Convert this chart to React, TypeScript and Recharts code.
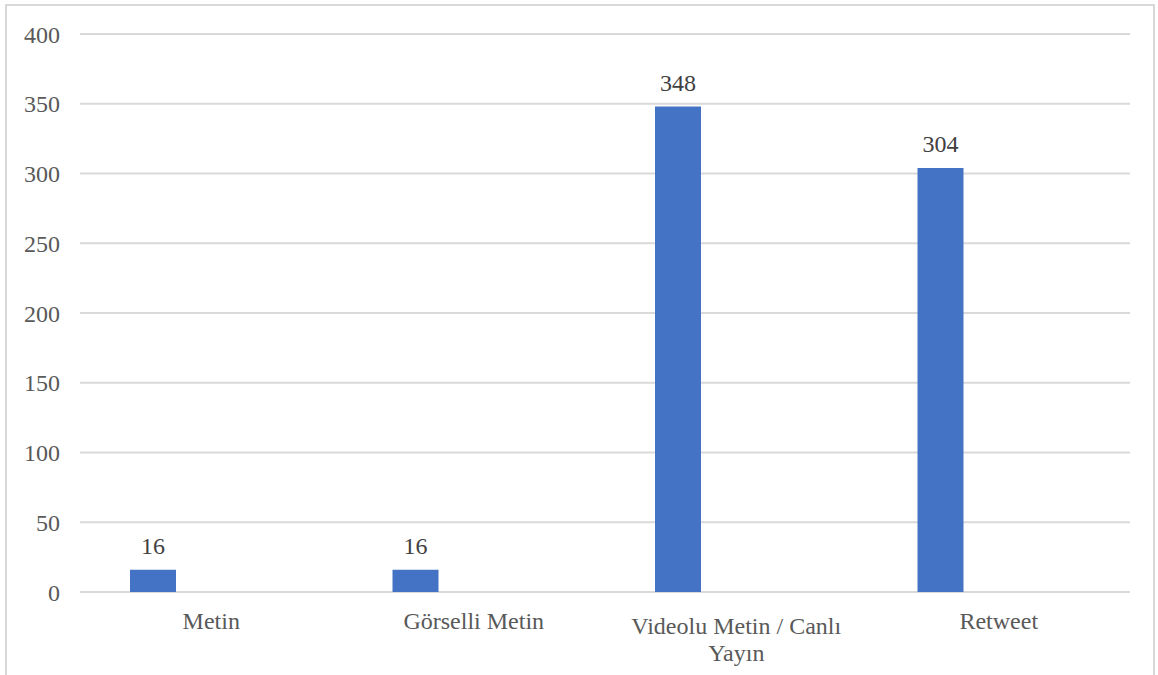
import React from 'react';
import { BarChart, Bar, XAxis, YAxis, CartesianGrid, LabelList } from 'recharts';

const categories = ['Metin', 'Görselli Metin', 'Videolu Metin / Canlı Yayın', 'Retweet'];
const counts = [16, 16, 348, 304];
// the source chart reserves room for two more (empty) series in each group
const emptyA = [0, 0, 0, 0];
const emptyB = [0, 0, 0, 0];
const yTicks = [0, 50, 100, 150, 200, 250, 300, 350, 400];

const data = categories.map((name, i) => ({
  name,
  count: counts[i],
  s2: emptyA[i],
  s3: emptyB[i],
}));

const FONT = '"Liberation Serif", "Times New Roman", serif';
const TEXT = '#595959';
const TICK_FONT_SIZE = 24;
const MAX_LABEL_WIDTH = 222;

let ctx: CanvasRenderingContext2D | null = null;
const measure = (s: string) => {
  if (!ctx) ctx = document.createElement('canvas').getContext('2d');
  if (!ctx) return s.length * TICK_FONT_SIZE * 0.45;
  ctx.font = `${TICK_FONT_SIZE}px ${FONT}`;
  return ctx.measureText(s).width;
};

const wrap = (label: string) => {
  const lines: string[] = [];
  let cur = '';
  label.split(' ').forEach((w) => {
    const next = cur ? `${cur} ${w}` : w;
    if (cur && measure(next) > MAX_LABEL_WIDTH) {
      lines.push(cur);
      cur = w;
    } else {
      cur = next;
    }
  });
  if (cur) lines.push(cur);
  return lines;
};

interface TickProps {
  x?: number;
  y?: number;
  payload?: { value: string };
}

const CategoryTick = ({ x = 0, y = 0, payload }: TickProps) => {
  const lines = wrap(payload ? payload.value : '');
  // two-line labels sit a little lower in the source
  const shift = lines.length > 1 ? 5 : 0;
  return (
    <text x={x} y={y + shift} textAnchor="middle" fill={TEXT} fontSize={TICK_FONT_SIZE} fontFamily={FONT}>
      {lines.map((l, i) => (
        <tspan key={i} x={x} dy={i === 0 ? '0.8em' : 27}>
          {l}
        </tspan>
      ))}
    </text>
  );
};

const App: React.FC = () => {
  return (
    <div style={{ position: 'absolute', left: 0, top: 0, width: 1158, height: 675, overflow: 'hidden', background: '#fff' }}>
      <div
        style={{
          position: 'absolute',
          left: 5,
          top: 4,
          width: 1150,
          height: 720,
          border: '2px solid #d9d9d9',
          boxSizing: 'border-box',
        }}
      />
      <div style={{ position: 'absolute', left: 0, top: 0 }}>
        <BarChart
          width={1158}
          height={675}
          data={data}
          margin={{ top: 34, right: 28, left: 0, bottom: 13 }}
          barSize={46}
          barGap={12}
        >
          <CartesianGrid horizontal vertical={false} stroke="#d9d9d9" strokeWidth={2} />
          <XAxis
            dataKey="name"
            axisLine={false}
            tickLine={false}
            height={70}
            interval={0}
            tickMargin={12}
            tick={<CategoryTick />}
          />
          <YAxis
            domain={[0, 400]}
            ticks={yTicks}
            width={80}
            axisLine={false}
            tickLine={false}
            tickSize={0}
            tickMargin={20}
            tick={{ fill: TEXT, fontSize: TICK_FONT_SIZE, fontFamily: FONT }}
          />
          <Bar dataKey="count" fill="#4472C4" isAnimationActive={false}>
            <LabelList
              dataKey="count"
              position="top"
              offset={16}
              fill="#404040"
              fontSize={24}
              fontFamily={FONT}
            />
          </Bar>
          <Bar dataKey="s2" fill="#ED7D31" isAnimationActive={false} />
          <Bar dataKey="s3" fill="#A5A5A5" isAnimationActive={false} />
        </BarChart>
      </div>
    </div>
  );
};

export default App;
